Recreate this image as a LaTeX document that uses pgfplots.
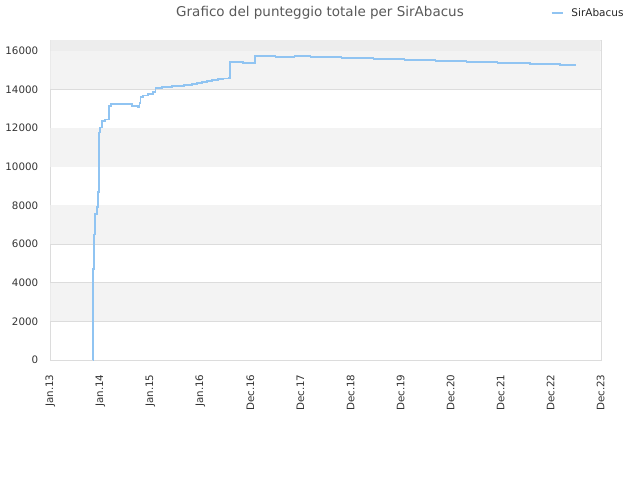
\documentclass[border=0pt]{standalone}
\usepackage{fontspec}
\setmainfont{DejaVu Sans}
\usepackage{pgfplots}
\pgfplotsset{compat=1.18}
\definecolor{linea}{HTML}{90C4F2}
\definecolor{banda}{HTML}{F3F3F3}
\definecolor{bandatop}{HTML}{EDEDED}
\definecolor{griglia}{HTML}{DCDCDC}
\definecolor{testo}{HTML}{333333}

\begin{document}
\begin{tikzpicture}[x=1pt,y=1pt]
  \path (0,0) rectangle (640,480);
  \begin{axis}[
    at={(50.3pt,120pt)}, anchor=south west,
    scale only axis,
    width=550.4pt, height=319.7pt,
    xmin=0, xmax=11,
    ymin=0, ymax=16540,
    xtick={0,...,11},
    xticklabels={Jan.13,Jan.14,Jan.15,Jan.16,Dec.16,Dec.17,Dec.18,Dec.19,Dec.20,Dec.21,Dec.22,Dec.23},
    ytick={0,2000,...,16000},
    scaled y ticks=false,
    /pgf/number format/1000 sep={},
    /pgf/number format/assume math mode=true,
    tick label style={font=\fontsize{10.3}{11}\selectfont, text=testo},
    xticklabel style={yshift=-11pt, rotate=90, anchor=east},
    yticklabel style={xshift=-8.6pt},
    axis line style={griglia},
    tick style={draw=none},
    major tick length=0pt,
    ymajorgrids, grid style={griglia, line width=0.8pt},
    legend style={at={(axis description cs:1,1)}, anchor=east, xshift=28pt, yshift=27.5pt,
      draw=none, fill=none, font=\fontsize{10.5}{12}\selectfont, text=black!85,
      /tikz/every odd column/.append style={column sep=6pt}},
    legend image code/.code={\draw[#1, line width=1.5pt] (0pt,0pt) -- (11pt,0pt);},
  ]
    % bande alternate
    \fill[banda] (axis cs:0,2000) rectangle (axis cs:11,4000);
    \fill[banda] (axis cs:0,6000) rectangle (axis cs:11,8000);
    \fill[banda] (axis cs:0,10000) rectangle (axis cs:11,12000);
    \fill[banda] (axis cs:0,14000) rectangle (axis cs:11,16000);
    \fill[bandatop] (axis cs:0,16000) rectangle (axis cs:11,16540);

    \addplot[const plot, color=linea, line width=1.7pt] coordinates {
      (0.853,0) (0.855,4692) (0.874,6497) (0.90,7564) (0.93,7900) (0.95,8700)
      (0.98,11772) (1.0,12030) (1.04,12375) (1.10,12450) (1.174,13148) (1.214,13234)
      (1.634,13148) (1.754,13100) (1.78,13300) (1.80,13600) (1.854,13680) (1.946,13770)
      (2.054,13850) (2.10,14060) (2.234,14110) (2.434,14160) (2.666,14230) (2.834,14280)
      (2.934,14330) (3.034,14380) (3.134,14430) (3.234,14490) (3.346,14540) (3.454,14570)
      (3.566,14600) (3.586,15433) (3.846,15366) (4.086,15742) (4.5,15690) (4.88,15742)
      (5.2,15690) (5.82,15640) (6.46,15588) (7.08,15536) (7.7,15485) (8.32,15433)
      (8.94,15381) (9.58,15330) (10.19,15278) (10.514,15278)
    };
    \addlegendentry{SirAbacus}
  \end{axis}
  \node[font=\fontsize{13.5}{15}\selectfont, text=black!65] at (320,467) {Grafico del punteggio totale per SirAbacus};
\end{tikzpicture}
\end{document}
